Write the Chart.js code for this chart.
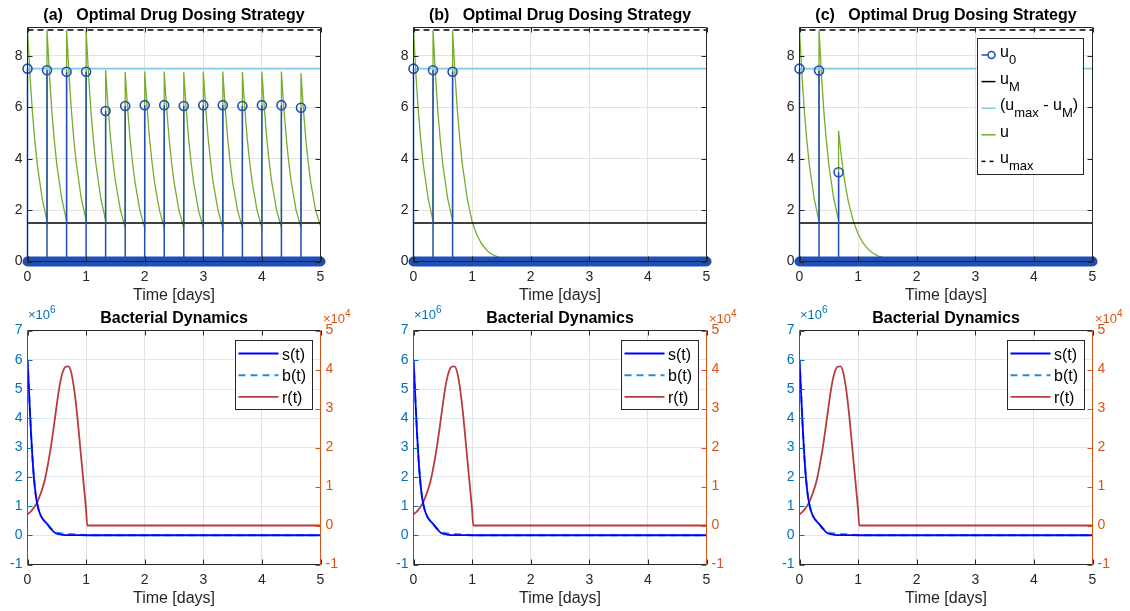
<!DOCTYPE html>
<html>
<head>
<meta charset="utf-8">
<script src="https://cdn.jsdelivr.net/npm/chart.js@4.4.1/dist/chart.umd.min.js"></script>
<style>
  body { margin: 0; width: 1130px; height: 611px; overflow: hidden; background: #fff; position: relative; }
  canvas { position: absolute; }
</style>
</head>
<body>
<canvas id="doseA" width="380" height="305" style="left:0px;top:0px"></canvas>
<canvas id="doseB" width="380" height="305" style="left:386px;top:0px"></canvas>
<canvas id="doseC" width="380" height="305" style="left:772px;top:0px"></canvas>
<canvas id="bactA" width="380" height="306" style="left:0px;top:305px"></canvas>
<canvas id="bactB" width="380" height="306" style="left:386px;top:305px"></canvas>
<canvas id="bactC" width="380" height="306" style="left:772px;top:305px"></canvas>
<script>
// ---- data (time in days) ----
const tMin = 0, tMax = 5;
const uM = 1.5, uGap = 7.5, uMax = 9;   // u_M, (u_max - u_M), u_max

// offsets (days) after each dose at which u is read: 0,1,2,3,4,6,8 h
const uOffsets = [0, 0.042, 0.083, 0.125, 0.167, 0.25, 0.333];
const uTailTimes = [1.083, 1.167, 1.25, 1.333, 1.5, 1.667, 1.833, 2, 2.5, 5];

// (a)
const doseTimesA = [0, 0.333, 0.667, 1, 1.333, 1.667, 2, 2.333, 2.667, 3, 3.333, 3.667, 4, 4.333, 4.667];
const doseA = [7.5, 7.44, 7.38, 7.38, 5.85, 6.05, 6.08, 6.08, 6.05, 6.08, 6.08, 6.05, 6.08, 6.08, 5.98];
const uA = [
  [9, 7.25, 5.83, 4.7, 3.78, 2.45, 1.57],
  [9, 7.25, 5.83, 4.7, 3.78, 2.45, 1.58],
  [9, 7.25, 5.84, 4.71, 3.79, 2.46, 1.6],
  [9, 7.25, 5.84, 4.71, 3.79, 2.46, 1.6],
  [7.45, 6.0, 4.83, 3.89, 3.13, 2.03, 1.33],
  [7.38, 5.94, 4.78, 3.85, 3.1, 2.0, 1.31],
  [7.39, 5.95, 4.79, 3.86, 3.1, 2.01, 1.31],
  [7.39, 5.95, 4.79, 3.86, 3.1, 2.01, 1.32],
  [7.37, 5.93, 4.77, 3.85, 3.09, 2.0, 1.31],
  [7.39, 5.95, 4.79, 3.86, 3.1, 2.01, 1.31],
  [7.39, 5.95, 4.79, 3.86, 3.1, 2.01, 1.32],
  [7.37, 5.93, 4.77, 3.85, 3.09, 2.0, 1.31],
  [7.39, 5.95, 4.79, 3.86, 3.1, 2.01, 1.31],
  [7.39, 5.95, 4.79, 3.86, 3.1, 2.01, 1.32],
  [7.32, 5.89, 4.74, 3.82, 3.07, 1.99, 1.38]
];

// (b)
const doseTimesB = [0, 0.333, 0.667];
const doseB = [7.5, 7.44, 7.38];
const uB = [
  [9, 7.25, 5.83, 4.7, 3.78, 2.45, 1.57],
  [9, 7.25, 5.83, 4.7, 3.78, 2.45, 1.6],
  [9, 7.25, 5.83, 4.7, 3.78, 2.45, 1.55]
];
const uTailB = [1.02, 0.67, 0.44, 0.28, 0.12, 0.05, 0.02, 0.01, 0, 0];

// (c)
const doseTimesC = [0, 0.333, 0.667];
const doseC = [7.5, 7.43, 3.47];
const uC = [
  [9, 7.25, 5.83, 4.7, 3.78, 2.45, 1.57],
  [9, 7.25, 5.83, 4.7, 3.78, 2.45, 1.62],
  [5.08, 4.19, 3.45, 2.84, 2.33, 1.58, 1.07]
];
const uTailC = [0.72, 0.49, 0.33, 0.22, 0.1, 0.046, 0.02, 0.01, 0, 0];

// bacterial dynamics: s, b in units of 1e6, r in units of 1e4
const sTimes = [0, 0.02, 0.04, 0.06, 0.08, 0.1, 0.125, 0.15, 0.18, 0.21, 0.24, 0.27, 0.3, 0.33, 0.36, 0.4, 0.44, 0.48, 0.53, 0.6, 0.7, 0.85, 1.0, 5.0];
const sVals = [6.0, 5.2, 4.3, 3.5, 2.8, 2.2, 1.65, 1.25, 0.95, 0.75, 0.62, 0.53, 0.46, 0.4, 0.32, 0.22, 0.13, 0.07, 0.035, 0.015, 0.005, 0.002, 0, 0];
const bTimes = [0, 0.02, 0.04, 0.06, 0.08, 0.1, 0.125, 0.15, 0.18, 0.21, 0.24, 0.27, 0.3, 0.33, 0.36, 0.4, 0.44, 0.48, 0.53, 0.6, 0.7, 0.8, 0.9, 1.0, 1.2, 5.0];
const bVals = [6.0, 5.2, 4.3, 3.5, 2.8, 2.2, 1.65, 1.25, 0.95, 0.75, 0.62, 0.53, 0.46, 0.4, 0.33, 0.24, 0.16, 0.11, 0.08, 0.06, 0.04, 0.03, 0.015, 0.005, 0, 0];
const rTimes = [0, 0.05, 0.1, 0.15, 0.2, 0.25, 0.3, 0.35, 0.4, 0.45, 0.5, 0.55, 0.6, 0.65, 0.7, 0.75, 0.8, 0.85, 0.9, 0.95, 1.0, 1.02, 5.0];
const rVals = [0.29, 0.35, 0.44, 0.55, 0.72, 0.93, 1.2, 1.58, 2.02, 2.55, 3.1, 3.6, 3.93, 4.07, 4.08, 3.9, 3.45, 2.8, 2.0, 1.2, 0.4, 0, 0];

// ---- styling ----
const FONT = "'Liberation Sans', Arial, Helvetica, sans-serif";
const INK = '#262626';
const STEM_BLUE = '#1f4eb4';
const LIGHT_BLUE = '#80cbe0';
const GREEN = '#77ac30';
const AX_BLUE = '#0072bd';
const AX_ORANGE = '#d95319';
const S_BLUE = '#0000ff';
const B_BLUE = '#2b8bd6';
const R_RED = '#b93b3b';

// helpers building point lists from the arrays above
const pairs = (ts, vs) => ts.map((t, i) => ({x: t, y: vs[i]}));
const hline = v => [{x: tMin, y: v}, {x: tMax, y: v}];

function stemPoints(times, vals) {
  const pts = [];
  times.forEach((t, i) => pts.push({x: t, y: 0}, {x: t, y: vals[i]}, {x: t, y: null}));
  return pts;
}

function uPoints(times, rows, tailVals) {
  const pts = [];
  rows.forEach((row, i) => row.forEach((v, j) => pts.push({x: times[i] + uOffsets[j], y: v})));
  if (tailVals) uTailTimes.forEach((t, i) => pts.push({x: t, y: tailVals[i]}));
  return pts;
}

// text with _{sub} and ^{sup}
function drawRich(ctx, label, x, y, size, small, drop, rise) {
  label.split(/(_\{[^}]*\}|\^\{[^}]*\})/).filter(Boolean).forEach(p => {
    const sub = p.startsWith('_{'), sup = p.startsWith('^{');
    const txt = (sub || sup) ? p.slice(2, -1) : p;
    ctx.font = `${(sub || sup) ? small : size}px ${FONT}`;
    ctx.fillText(txt, x, sub ? y + drop : sup ? y - rise : y);
    x += ctx.measureText(txt).width;
  });
}

// box, inward ticks, title, exponent labels and legend (MATLAB look)
const framePlugin = {
  id: 'frame',
  afterDatasetsDraw(chart, args, o) {
    const {ctx, chartArea: a, scales} = chart;
    const tl = 5;
    const L = o.leftColor || INK, R = o.rightColor || INK;
    ctx.save();
    ctx.lineWidth = 1;
    const seg = (x1, y1, x2, y2, c) => {
      ctx.strokeStyle = c; ctx.beginPath(); ctx.moveTo(x1, y1); ctx.lineTo(x2, y2); ctx.stroke();
    };
    scales.x.ticks.forEach(t => {
      const px = Math.round(scales.x.getPixelForValue(t.value)) + 0.5;
      seg(px, a.bottom, px, a.bottom - tl, INK);
      seg(px, a.top, px, a.top + tl, INK);
    });
    scales.y.ticks.forEach(t => {
      const py = Math.round(scales.y.getPixelForValue(t.value)) + 0.5;
      seg(a.left, py, a.left + tl, py, L);
      if (!scales.y2) seg(a.right, py, a.right - tl, py, R);
    });
    if (scales.y2) scales.y2.ticks.forEach(t => {
      const py = Math.round(scales.y2.getPixelForValue(t.value)) + 0.5;
      seg(a.right, py, a.right - tl, py, R);
    });
    seg(a.left, a.bottom, a.right, a.bottom, INK);
    seg(a.left, a.top, a.right, a.top, INK);
    seg(a.left, a.top, a.left, a.bottom, L);
    seg(a.right, a.top, a.right, a.bottom, R);

    // title
    ctx.fillStyle = '#000';
    ctx.font = `bold 16px ${FONT}`;
    ctx.textAlign = 'center';
    ctx.textBaseline = 'middle';
    ctx.fillText(o.title, (a.left + a.right) / 2, a.top - 12);

    // exponent labels
    ctx.textAlign = 'left';
    ctx.textBaseline = 'alphabetic';
    if (o.expLeft) {
      ctx.fillStyle = L;
      drawRich(ctx, o.expLeft, a.left + 0.5, a.top - 12, 13, 10, 0, 6);
    }
    if (o.expRight) {
      ctx.fillStyle = R;
      drawRich(ctx, o.expRight, a.right + 2.5, a.top - 7.5, 13, 10, 0, 6);
    }

    // legend
    const lg = o.legend;
    if (lg) {
      const bx = a.right - lg.right - lg.w, by = a.top + lg.top;
      ctx.fillStyle = '#fff';
      ctx.fillRect(bx, by, lg.w, lg.h);
      ctx.strokeStyle = INK;
      ctx.strokeRect(Math.round(bx) + 0.5, Math.round(by) + 0.5, lg.w, lg.h);
      lg.items.forEach((it, i) => {
        const ry = by + lg.first + i * lg.gap;
        ctx.save();
        ctx.strokeStyle = it.color;
        ctx.lineWidth = it.width || 1.5;
        ctx.setLineDash(it.dash || []);
        ctx.beginPath();
        ctx.moveTo(bx + lg.x0, ry); ctx.lineTo(bx + lg.x1, ry);
        ctx.stroke();
        ctx.setLineDash([]);
        if (it.marker) {
          ctx.fillStyle = '#fff';
          ctx.beginPath(); ctx.arc(bx + lg.x1 - 4, ry, 3.5, 0, Math.PI * 2);
          ctx.fill(); ctx.stroke();
        }
        ctx.restore();
        ctx.fillStyle = '#000';
        ctx.textAlign = 'left';
        ctx.textBaseline = 'alphabetic';
        drawRich(ctx, it.label, bx + lg.tx, ry + lg.base, lg.size, lg.small, lg.drop, 0);
      });
    }
    ctx.restore();
  }
};

function xAxis(height, titlePad) {
  return {
    type: 'linear', min: tMin, max: tMax,
    afterFit: s => { s.height = height; },
    ticks: { stepSize: 1, color: INK, font: { family: FONT, size: 14 }, padding: 7 },
    grid: { color: '#e2e2e2', drawTicks: false },
    border: { display: false },
    title: { display: true, text: 'Time [days]', color: INK, font: { family: FONT, size: 16 },
             padding: { top: 0, bottom: titlePad } }
  };
}

const doseLegend = {
  right: 10, top: 10.5, w: 106, h: 136, first: 17, gap: 26.6,
  x0: 5, x1: 19, tx: 23.5, base: 2, size: 16, small: 13, drop: 7,
  items: [
    { label: 'u_{0}', color: STEM_BLUE, marker: true },
    { label: 'u_{M}', color: '#000' },
    { label: '(u_{max} - u_{M})', color: LIGHT_BLUE },
    { label: 'u', color: GREEN },
    { label: 'u_{max}', color: '#000', dash: [4, 4] }
  ]
};

function doseChart(id, title, times, doses, rows, tail, legend) {
  return new Chart(document.getElementById(id), {
    type: 'scatter',
    data: {
      datasets: [
        { label: 'zeros', data: hline(0), showLine: true, borderColor: STEM_BLUE, borderWidth: 10,
          borderCapStyle: 'round', pointRadius: 0, clip: 12 },
        { label: 'u0', data: stemPoints(times, doses), showLine: true, borderColor: STEM_BLUE, borderWidth: 1.5,
          pointRadius: c => (c.index % 3 === 1 ? 4.5 : 0), pointBorderWidth: 1.6,
          pointBorderColor: STEM_BLUE, pointBackgroundColor: 'rgba(0,0,0,0)', clip: 8 },
        { label: 'uM', data: hline(uM), showLine: true, borderColor: '#000', borderWidth: 1.4, pointRadius: 0 },
        { label: 'gap', data: hline(uGap), showLine: true, borderColor: LIGHT_BLUE, borderWidth: 1.8, pointRadius: 0 },
        { label: 'u', data: uPoints(times, rows, tail), showLine: true, borderColor: GREEN, borderWidth: 1.3, pointRadius: 0 },
        { label: 'umax', data: hline(uMax), showLine: true, borderColor: '#000', borderWidth: 1.5,
          borderDash: [6, 4], pointRadius: 0 }
      ]
    },
    options: {
      animation: false, responsive: false, events: [],
      layout: { padding: { top: 27.5, right: 59.5, left: 0, bottom: 0 } },
      scales: {
        x: xAxis(43.5, 0),
        y: {
          min: 0, max: 9.1,
          afterFit: s => { s.width = 27.5; },
          ticks: { stepSize: 2, includeBounds: false, color: INK, font: { family: FONT, size: 14 }, padding: 5 },
          grid: { color: '#e2e2e2', drawTicks: false },
          border: { display: false }
        }
      },
      plugins: { legend: { display: false }, tooltip: { enabled: false },
                 frame: { title: title, legend: legend } }
    },
    plugins: [framePlugin]
  });
}

const bactLegend = {
  right: 9, top: 9.5, w: 77, h: 69, first: 13.5, gap: 21.7,
  x0: 4, x1: 44, tx: 47.5, base: 6, size: 16, small: 12, drop: 0,
  items: [
    { label: 's(t)', color: S_BLUE, width: 1.8 },
    { label: 'b(t)', color: B_BLUE, width: 2, dash: [7, 5] },
    { label: 'r(t)', color: R_RED, width: 1.8 }
  ]
};

function bactChart(id) {
  return new Chart(document.getElementById(id), {
    type: 'scatter',
    data: {
      datasets: [
        { label: 's(t)', data: pairs(sTimes, sVals), yAxisID: 'y', showLine: true, borderColor: S_BLUE,
          borderWidth: 1.8, pointRadius: 0, cubicInterpolationMode: 'monotone' },
        { label: 'b(t)', data: pairs(bTimes, bVals), yAxisID: 'y', showLine: true, borderColor: B_BLUE,
          borderWidth: 2, borderDash: [7, 5], pointRadius: 0, cubicInterpolationMode: 'monotone' },
        { label: 'r(t)', data: pairs(rTimes, rVals), yAxisID: 'y2', showLine: true, borderColor: R_RED,
          borderWidth: 1.8, pointRadius: 0, cubicInterpolationMode: 'monotone' }
      ]
    },
    options: {
      animation: false, responsive: false, events: [],
      layout: { padding: { top: 25.5, right: 0, left: 0, bottom: 0 } },
      scales: {
        x: xAxis(46.5, 3),
        y: {
          position: 'left', min: -1, max: 7,
          afterFit: s => { s.width = 27.5; },
          ticks: { stepSize: 1, color: AX_BLUE, font: { family: FONT, size: 14 }, padding: 5 },
          grid: { color: '#dde8f2', drawTicks: false },
          border: { display: false }
        },
        y2: {
          position: 'right', min: -1, max: 5,
          afterFit: s => { s.width = 59.5; },
          ticks: { stepSize: 1, color: AX_ORANGE, font: { family: FONT, size: 14 }, padding: 5 },
          grid: { drawOnChartArea: false, drawTicks: false },
          border: { display: false }
        }
      },
      plugins: { legend: { display: false }, tooltip: { enabled: false },
                 frame: { title: 'Bacterial Dynamics', leftColor: AX_BLUE, rightColor: AX_ORANGE,
                          expLeft: '×10^{6}', expRight: '×10^{4}', legend: bactLegend } }
    },
    plugins: [framePlugin]
  });
}

doseChart('doseA', '(a)   Optimal Drug Dosing Strategy', doseTimesA, doseA, uA, null, null);
doseChart('doseB', '(b)   Optimal Drug Dosing Strategy', doseTimesB, doseB, uB, uTailB, null);
doseChart('doseC', '(c)   Optimal Drug Dosing Strategy', doseTimesC, doseC, uC, uTailC, doseLegend);
bactChart('bactA');
bactChart('bactB');
bactChart('bactC');
</script>
</body>
</html>
